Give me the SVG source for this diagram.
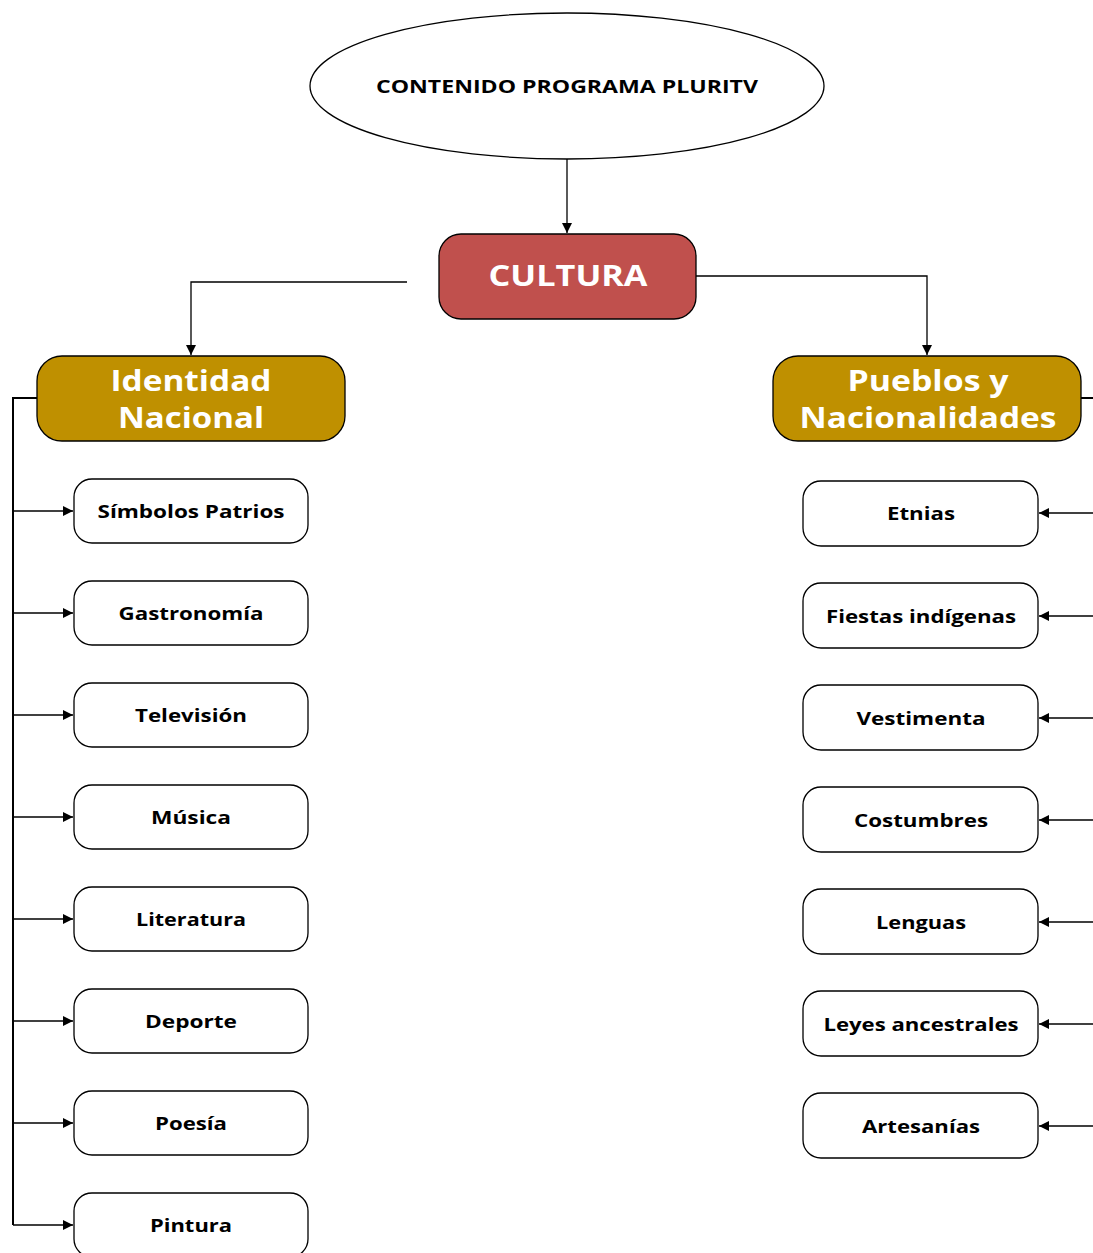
<svg xmlns="http://www.w3.org/2000/svg" width="1093" height="1253" viewBox="0 0 1093 1253">
<defs>
<marker id="ah" viewBox="0 0 10 10" refX="10" refY="5" markerWidth="10" markerHeight="10" markerUnits="userSpaceOnUse" orient="auto"><path d="M0,0 L10,5 L0,10 z" fill="#000"/></marker>
<style>
.t{font-family:"Open Sans","Noto Sans","DejaVu Sans",sans-serif;font-weight:bold;text-anchor:middle}
.leaf{fill:#fff;stroke:#000;stroke-width:1.3}
.lt{font-size:18px;fill:#000}
.big{font-size:29px;fill:#fff}
.c{fill:none;stroke:#000;stroke-width:1.3}
.s{fill:none;stroke:#000;stroke-width:2}
</style>
</defs>
<rect width="1093" height="1253" fill="#fff"/>
<g id="connectors">
<path class="c" d="M567,159 V233" marker-end="url(#ah)"/>
<path class="c" d="M407,282 H191 V355" marker-end="url(#ah)"/>
<path class="c" d="M696,276 H927 V355" marker-end="url(#ah)"/>
<path class="s" d="M37,398 H13 V1225"/>
<path class="s" d="M1081,398 H1093"/>
<path class="c" d="M13,511 H73" marker-end="url(#ah)"/>
<path class="c" d="M13,613 H73" marker-end="url(#ah)"/>
<path class="c" d="M13,715 H73" marker-end="url(#ah)"/>
<path class="c" d="M13,817 H73" marker-end="url(#ah)"/>
<path class="c" d="M13,919 H73" marker-end="url(#ah)"/>
<path class="c" d="M13,1021 H73" marker-end="url(#ah)"/>
<path class="c" d="M13,1123 H73" marker-end="url(#ah)"/>
<path class="c" d="M13,1225 H73" marker-end="url(#ah)"/>
<path class="c" d="M1093,513 H1039" marker-end="url(#ah)"/>
<path class="c" d="M1093,616 H1039" marker-end="url(#ah)"/>
<path class="c" d="M1093,718 H1039" marker-end="url(#ah)"/>
<path class="c" d="M1093,820 H1039" marker-end="url(#ah)"/>
<path class="c" d="M1093,922 H1039" marker-end="url(#ah)"/>
<path class="c" d="M1093,1024 H1039" marker-end="url(#ah)"/>
<path class="c" d="M1093,1126 H1039" marker-end="url(#ah)"/>
</g>
<g id="root">
<ellipse cx="567" cy="86" rx="257" ry="73" fill="#fff" stroke="#000" stroke-width="1.3"/>
<text class="t" x="567" y="93" font-size="18" fill="#000" textLength="382" lengthAdjust="spacingAndGlyphs">CONTENIDO PROGRAMA PLURITV</text>
</g>
<g id="cultura">
<rect x="439" y="234" width="257" height="85" rx="22" fill="#C0504D" stroke="#000" stroke-width="1.3"/>
<text class="t" x="568" y="286" font-size="28" fill="#fff" textLength="159" lengthAdjust="spacingAndGlyphs">CULTURA</text>
</g>
<g id="identidad">
<rect x="37" y="356" width="308" height="85" rx="25" fill="#BF9000" stroke="#000" stroke-width="1.3"/>
<text class="t big" x="191" y="391" textLength="161" lengthAdjust="spacingAndGlyphs">Identidad</text>
<text class="t big" x="191" y="428" textLength="146" lengthAdjust="spacingAndGlyphs">Nacional</text>
</g>
<g id="pueblos">
<rect x="773" y="356" width="308" height="85" rx="25" fill="#BF9000" stroke="#000" stroke-width="1.3"/>
<text class="t big" x="928" y="391" textLength="161" lengthAdjust="spacingAndGlyphs">Pueblos y</text>
<text class="t big" x="928" y="428" textLength="257" lengthAdjust="spacingAndGlyphs">Nacionalidades</text>
</g>
<g id="n-simbolos"><rect class="leaf" x="74" y="479" width="234" height="64" rx="18"/><text class="t lt" x="191" y="518" textLength="187" lengthAdjust="spacingAndGlyphs">Símbolos Patrios</text></g>
<g id="n-gastronomia"><rect class="leaf" x="74" y="581" width="234" height="64" rx="18"/><text class="t lt" x="191" y="620" textLength="145" lengthAdjust="spacingAndGlyphs">Gastronomía</text></g>
<g id="n-television"><rect class="leaf" x="74" y="683" width="234" height="64" rx="18"/><text class="t lt" x="191" y="722" textLength="112" lengthAdjust="spacingAndGlyphs">Televisión</text></g>
<g id="n-musica"><rect class="leaf" x="74" y="785" width="234" height="64" rx="18"/><text class="t lt" x="191" y="824" textLength="80" lengthAdjust="spacingAndGlyphs">Música</text></g>
<g id="n-literatura"><rect class="leaf" x="74" y="887" width="234" height="64" rx="18"/><text class="t lt" x="191" y="926" textLength="110" lengthAdjust="spacingAndGlyphs">Literatura</text></g>
<g id="n-deporte"><rect class="leaf" x="74" y="989" width="234" height="64" rx="18"/><text class="t lt" x="191" y="1028" textLength="92" lengthAdjust="spacingAndGlyphs">Deporte</text></g>
<g id="n-poesia"><rect class="leaf" x="74" y="1091" width="234" height="64" rx="18"/><text class="t lt" x="191" y="1130" textLength="72" lengthAdjust="spacingAndGlyphs">Poesía</text></g>
<g id="n-pintura"><rect class="leaf" x="74" y="1193" width="234" height="64" rx="18"/><text class="t lt" x="191" y="1232" textLength="82" lengthAdjust="spacingAndGlyphs">Pintura</text></g>
<g id="n-etnias"><rect class="leaf" x="803" y="481" width="235" height="65" rx="18"/><text class="t lt" x="921" y="520" textLength="68" lengthAdjust="spacingAndGlyphs">Etnias</text></g>
<g id="n-fiestas"><rect class="leaf" x="803" y="583" width="235" height="65" rx="18"/><text class="t lt" x="921" y="623" textLength="190" lengthAdjust="spacingAndGlyphs">Fiestas indígenas</text></g>
<g id="n-vestimenta"><rect class="leaf" x="803" y="685" width="235" height="65" rx="18"/><text class="t lt" x="921" y="725" textLength="129" lengthAdjust="spacingAndGlyphs">Vestimenta</text></g>
<g id="n-costumbres"><rect class="leaf" x="803" y="787" width="235" height="65" rx="18"/><text class="t lt" x="921" y="827" textLength="134" lengthAdjust="spacingAndGlyphs">Costumbres</text></g>
<g id="n-lenguas"><rect class="leaf" x="803" y="889" width="235" height="65" rx="18"/><text class="t lt" x="921" y="929" textLength="90" lengthAdjust="spacingAndGlyphs">Lenguas</text></g>
<g id="n-leyes"><rect class="leaf" x="803" y="991" width="235" height="65" rx="18"/><text class="t lt" x="921" y="1031" textLength="195" lengthAdjust="spacingAndGlyphs">Leyes ancestrales</text></g>
<g id="n-artesanias"><rect class="leaf" x="803" y="1093" width="235" height="65" rx="18"/><text class="t lt" x="921" y="1133" textLength="118" lengthAdjust="spacingAndGlyphs">Artesanías</text></g>
</svg>
